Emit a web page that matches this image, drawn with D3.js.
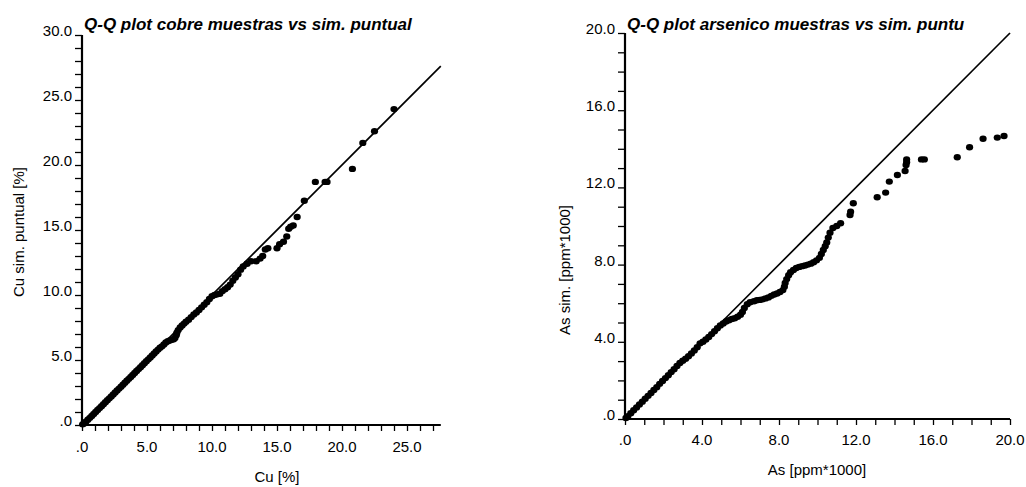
<!DOCTYPE html>
<html><head><meta charset="utf-8">
<script src="https://cdn.jsdelivr.net/npm/d3@7"></script>
<style>
html,body{margin:0;padding:0;background:#fff;}
text{font-family:"Liberation Sans",Arial,sans-serif;fill:#000;}
</style></head>
<body><svg id="c" width="1026" height="487"></svg>
<script>
// ---- Left chart: copper Q-Q (sample Cu %, simulated Cu %) ----
const cuSample = [0.05,0.15,0.3,0.45,0.6,0.75,0.9,1.05,1.2,1.35,1.5,1.65,1.8,1.95,2.1,2.25,2.4,2.55,2.7,2.85,3.0,3.15,3.3,3.45,3.6,3.75,3.9,4.05,4.2,4.35,4.5,4.65,4.8,4.95,5.1,5.25,5.4,5.55,5.7,5.85,6.0,6.15,6.3,6.45,6.6,6.75,6.9,7.05,7.15,7.25,7.3,7.4,7.55,7.7,7.85,8.0,8.2,8.4,8.6,8.8,9.0,9.2,9.4,9.6,9.8,10.0,10.2,10.4,10.6,10.8,11.0,11.2,11.4,11.6,11.8,12.0,12.2,12.4,12.7,13.0,13.4,13.7,13.9,14.1,14.3,15.0,15.2,15.5,15.75,15.9,16.05,16.25,16.55,17.1,17.95,18.7,18.85,20.8,21.6,22.5,24.0];
const cuSim    = [0.05,0.12,0.25,0.4,0.55,0.7,0.85,1.0,1.15,1.3,1.45,1.6,1.75,1.9,2.05,2.2,2.35,2.5,2.65,2.8,2.95,3.1,3.25,3.4,3.55,3.7,3.85,4.0,4.15,4.3,4.45,4.6,4.75,4.9,5.05,5.2,5.35,5.5,5.65,5.8,5.95,6.05,6.2,6.35,6.45,6.5,6.55,6.6,6.7,6.9,7.1,7.3,7.5,7.65,7.8,7.95,8.1,8.3,8.5,8.65,8.85,9.05,9.25,9.45,9.7,9.9,10.0,10.05,10.1,10.3,10.45,10.6,10.8,11.1,11.35,11.6,11.95,12.2,12.4,12.6,12.6,12.8,13.0,13.5,13.6,13.6,13.9,14.1,14.5,15.1,15.25,15.35,16.0,17.25,18.7,18.7,18.7,19.7,21.7,22.6,24.3];
const cuXTicks = [0,5,10,15,20,25];
const cuXTickLabels = [".0","5.0","10.0","15.0","20.0","25.0"];
const cuYTicks = [0,5,10,15,20,25,30];
const cuYTickLabels = [".0","5.0","10.0","15.0","20.0","25.0","30.0"];

// ---- Right chart: arsenic Q-Q (sample As ppm*1000, simulated) ----
const asSample = [0.05,0.15,0.3,0.45,0.6,0.75,0.9,1.05,1.2,1.35,1.5,1.65,1.8,1.95,2.1,2.25,2.4,2.55,2.7,2.85,3.0,3.15,3.3,3.45,3.6,3.75,3.9,4.05,4.2,4.35,4.5,4.65,4.8,4.95,5.1,5.25,5.4,5.55,5.7,5.85,6.0,6.1,6.2,6.35,6.5,6.7,6.85,7.0,7.15,7.3,7.45,7.6,7.75,7.9,8.05,8.2,8.28,8.32,8.4,8.5,8.6,8.75,8.9,9.05,9.2,9.35,9.5,9.65,9.8,9.95,10.1,10.2,10.3,10.4,10.48,10.56,10.65,10.8,11.0,11.2,11.69,11.72,11.86,13.1,13.54,13.73,14.15,14.55,14.6,14.63,14.63,15.4,15.55,17.26,17.9,18.6,19.34,19.69];
const asSim    = [0.05,0.15,0.3,0.45,0.6,0.75,0.9,1.05,1.2,1.35,1.5,1.65,1.82,1.97,2.12,2.27,2.43,2.58,2.75,2.9,3.02,3.12,3.25,3.4,3.55,3.72,3.92,4.0,4.12,4.25,4.4,4.55,4.7,4.85,4.95,5.05,5.12,5.18,5.22,5.3,5.4,5.55,5.75,5.95,6.05,6.1,6.15,6.17,6.2,6.25,6.3,6.38,6.45,6.5,6.58,6.68,6.85,7.05,7.25,7.45,7.6,7.72,7.82,7.88,7.92,7.95,8.0,8.05,8.12,8.22,8.35,8.55,8.76,8.95,9.15,9.4,9.65,9.9,10.0,10.14,10.57,10.74,11.18,11.49,11.73,12.3,12.64,12.85,13.16,13.3,13.45,13.45,13.45,13.56,14.08,14.52,14.58,14.66];
const asXTicks = [0,4,8,12,16,20];
const asXTickLabels = [".0","4.0","8.0","12.0","16.0","20.0"];
const asYTicks = [0,4,8,12,16,20];
const asYTickLabels = [".0","4.0","8.0","12.0","16.0","20.0"];

const svg = d3.select("#c");

function panel(o){
  const g = svg.append("g");
  const x = d3.scaleLinear().domain(o.xDom).range(o.xRange);
  const y = d3.scaleLinear().domain(o.yDom).range(o.yRange);

  // 45-degree reference line
  g.append("line")
    .attr("x1", x(0)).attr("y1", y(0))
    .attr("x2", x(o.diag)).attr("y2", y(o.diag))
    .attr("stroke","#000").attr("stroke-width",1.7);

  // points
  g.selectAll("ellipse.p").data(o.xs.map((v,i)=>[v,o.ys[i]])).join("ellipse")
    .attr("class","p")
    .attr("cx", d=>x(d[0])).attr("cy", d=>y(d[1]))
    .attr("rx", 3.6).attr("ry", 3.2).attr("fill","#000");

  // x axis
  const xa = d3.axisBottom(x).tickValues(d3.range(0, Math.floor(o.xDom[1])+1, 1))
     .tickSize(6).tickFormat("");
  const gx = g.append("g").attr("transform",`translate(0,${o.yRange[0]})`).call(xa);
  gx.select(".domain").attr("stroke-width",2.2).attr("d",`M${o.xRange[0]-1},0H${o.xRange[1]}`);
  gx.selectAll(".tick line").attr("stroke-width",1.3);
  g.selectAll("text.xl").data(o.xTicks).join("text").attr("class","xl")
    .attr("x", (d)=>x(d)).attr("y", o.yRange[0]+o.xLabDy)
    .attr("text-anchor","middle").style("font-size","15px")
    .text((d,i)=>o.xTickLabels[i]);

  // y axis
  const ya = d3.axisLeft(y).tickValues(d3.range(0, o.yDom[1]+1, 1))
     .tickSize(7).tickFormat("");
  const gy = g.append("g").attr("transform",`translate(${o.xRange[0]},0)`).call(ya);
  gy.select(".domain").attr("stroke-width",2.2).attr("d",`M0,${o.yRange[0]+1}V${o.yRange[1]}`);
  gy.selectAll(".tick line").attr("stroke-width",1.3);
  g.selectAll("text.yl").data(o.yTicks).join("text").attr("class","yl")
    .attr("x", o.xRange[0]-10).attr("y", d=>y(d)+1)
    .attr("text-anchor","end").style("font-size","15px")
    .text((d,i)=>o.yTickLabels[i]);

  // title
  g.append("text").attr("x", o.titleX).attr("y", 30)
    .style("font-size","17px").style("font-weight","bold").style("font-style","italic")
    .text(o.title);
  // x title
  g.append("text").attr("x", o.xTitleX).attr("y", o.xTitleY)
    .attr("text-anchor","middle").style("font-size","15px").text(o.xTitle);
  // y title
  g.append("text").attr("transform",`translate(${o.yTitleX},${o.yTitleY}) rotate(-90)`)
    .attr("text-anchor","middle").style("font-size","15px").text(o.yTitle);
}

panel({
  xs: cuSample, ys: cuSim,
  xDom:[0,27.6], xRange:[82,440.8], yDom:[0,30], yRange:[425,35], diag:27.6,
  xTicks: cuXTicks, xTickLabels: cuXTickLabels, yTicks: cuYTicks, yTickLabels: cuYTickLabels,
  xLabDy: 27,
  title:"Q-Q plot cobre muestras vs sim. puntual", titleX:84,
  xTitle:"Cu [%]", xTitleX:277, xTitleY:482,
  yTitle:"Cu sim. puntual [%]", yTitleX:24, yTitleY:232
});
panel({
  xs: asSample, ys: asSim,
  xDom:[0,20], xRange:[625,1010], yDom:[0,20], yRange:[419,33], diag:20,
  xTicks: asXTicks, xTickLabels: asXTickLabels, yTicks: asYTicks, yTickLabels: asYTickLabels,
  xLabDy: 26,
  title:"Q-Q plot arsenico muestras vs sim. puntu", titleX:627,
  xTitle:"As [ppm*1000]", xTitleX:817, xTitleY:475,
  yTitle:"As sim. [ppm*1000]", yTitleX:570, yTitleY:270
});
</script></body></html>
